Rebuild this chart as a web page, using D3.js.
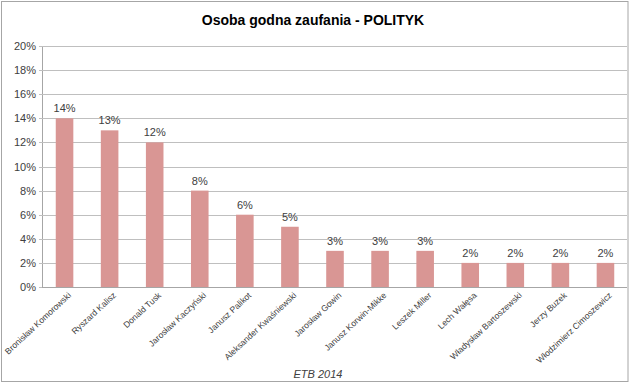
<!DOCTYPE html>
<html><head><meta charset="utf-8">
<script src="https://cdn.jsdelivr.net/npm/d3@7"></script>
<style>
html,body{margin:0;padding:0;background:#fff;}
svg{display:block;font-family:"Liberation Sans",Arial,sans-serif;}
</style></head>
<body><svg id="chart" width="630" height="384"></svg>
<script>
const categories = ["Bronisław Komorowski","Ryszard Kalisz","Donald Tusk","Jarosław Kaczyński","Janusz Palikot","Aleksander Kwaśniewski","Jarosław Gowin","Janusz Korwin-Mikke","Leszek Miller","Lech Wałęsa","Władysław Bartoszewski","Jerzy Buzek","Włodzimierz Cimoszewicz"];
const values = [14,13,12,8,6,5,3,3,3,2,2,2,2];
const yTicks = [0,2,4,6,8,10,12,14,16,18,20];
const title = "Osoba godna zaufania - POLITYK";
const footnote = "ETB 2014";

const svg = d3.select("#chart");
const pLeft = 42, pRight = 628, pTop = 46, pBottom = 287;

svg.append("rect").attr("x",1.5).attr("y",1.5).attr("width",626.5).attr("height",380)
  .attr("fill","#fff").attr("stroke","#a6a6a6").attr("stroke-width",1);

const x = d3.scaleBand().domain(categories).range([pLeft,pRight]).paddingInner(0.61).paddingOuter(0.305);
const y = d3.scaleLinear().domain([0,20]).range([pBottom,pTop]);

const plot = svg.append("g");
svg.append("clipPath").attr("id","c").append("rect").attr("x",-50).attr("y",0).attr("width",627-pLeft+50).attr("height",384);

// gridlines + y axis
const yAxis = d3.axisLeft(y).tickValues(yTicks).tickFormat(d => d + "%").tickSize(-(pRight-pLeft)).tickSizeOuter(0).tickPadding(6);
const gy = plot.append("g").attr("transform",`translate(${pLeft},0)`).attr("clip-path","url(#c)").call(yAxis);
gy.select(".domain").attr("stroke","#a6a6a6").attr("shape-rendering","crispEdges");
gy.selectAll(".tick line").attr("stroke","#bfbfbf").attr("x1",-3).attr("shape-rendering","crispEdges");
gy.selectAll(".tick text").attr("fill","#404040").attr("font-size","11px").attr("x",-6);

// bars
plot.selectAll("rect.bar").data(values).join("rect").attr("class","bar")
  .attr("x",(d,i)=>x(categories[i])).attr("width",x.bandwidth())
  .attr("y",d=>y(d)).attr("height",d=>pBottom-y(d)).attr("fill","#d99694");

// x axis line
plot.append("line").attr("x1",pLeft).attr("x2",pRight-1).attr("y1",pBottom+0.5).attr("y2",pBottom+0.5)
  .attr("stroke","#a6a6a6");

// data labels
plot.selectAll("text.lbl").data(values).join("text").attr("class","lbl")
  .attr("x",(d,i)=>x(categories[i])+x.bandwidth()/2).attr("y",d=>y(d)-6)
  .attr("text-anchor","middle").attr("font-size","11px").attr("fill","#404040")
  .text(d=>d+"%");

// category labels
const xAxis = d3.axisBottom(x).tickSize(0).tickPadding(0);
const gx = plot.append("g").attr("transform",`translate(0,${pBottom})`).call(xAxis);
gx.select(".domain").remove();
gx.selectAll(".tick text").attr("fill","#404040").attr("font-size","8.6px")
  .attr("text-anchor","end").attr("dy",0).attr("y",0)
  .attr("transform","translate(7,9) rotate(-43)");

// title
svg.append("text").attr("x",313).attr("y",25).attr("text-anchor","middle")
  .attr("font-size","14px").attr("font-weight","bold").attr("fill","#000").text(title);

// footnote
svg.append("text").attr("x",318).attr("y",378).attr("text-anchor","middle")
  .attr("font-size","11px").attr("font-style","italic").attr("fill","#404040").text(footnote);
</script></body></html>
